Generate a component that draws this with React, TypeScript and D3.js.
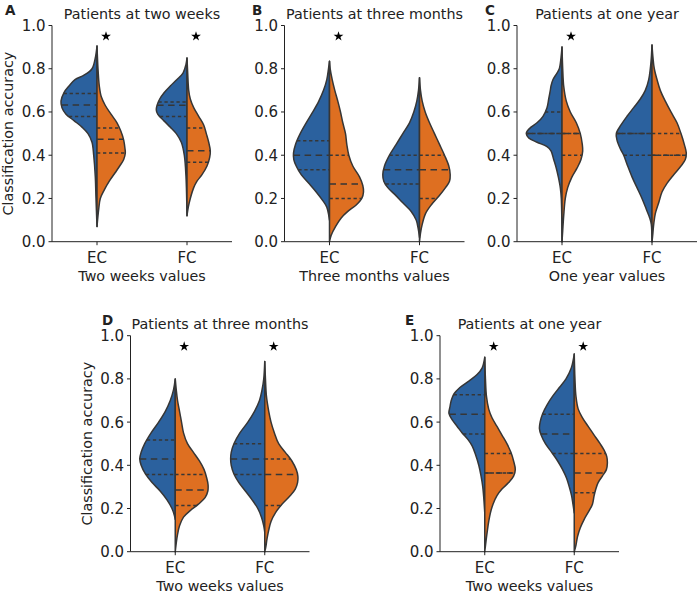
import React from "react";
import * as d3 from "d3";

// ---------- DATA ----------
const categories = ["EC", "FC"];
const yTicks = [0, 0.2, 0.4, 0.6, 0.8, 1.0];

// Density profiles: [classification accuracy, density]
const A_EC_left = [[0.905,0],[0.85,1.7],[0.80,5],[0.77,13],[0.75,22],[0.72,28],[0.69,33],[0.65,36],[0.62,35],[0.59,31],[0.56,23],[0.53,15],[0.50,9],[0.46,5],[0.40,3.3],[0.30,1.7],[0.20,1],[0.07,0]];
const A_EC_right = [[0.905,0],[0.80,1],[0.72,2.3],[0.67,4.3],[0.63,8.3],[0.59,14],[0.55,20],[0.51,24],[0.47,26.7],[0.43,28],[0.41,28.3],[0.38,26.7],[0.35,22.7],[0.32,18.3],[0.28,12.3],[0.24,7.3],[0.20,3.3],[0.15,1.7],[0.07,0]];
const A_FC_left = [[0.85,0],[0.82,1],[0.78,4],[0.75,10],[0.72,16.7],[0.69,22.7],[0.66,27.3],[0.63,30],[0.61,30.7],[0.59,29.3],[0.56,23.3],[0.53,16.7],[0.50,10.7],[0.46,5.7],[0.40,2.7],[0.30,1],[0.12,0]];
const A_FC_right = [[0.85,0],[0.78,0.7],[0.70,1.7],[0.66,3.3],[0.62,6.7],[0.58,11.7],[0.54,16.7],[0.50,19.3],[0.46,21.7],[0.42,23.3],[0.39,22.7],[0.35,20],[0.31,15],[0.28,10],[0.25,6.7],[0.20,3.3],[0.16,1.3],[0.12,0]];

const B_EC_left = [[0.835,0],[0.80,1],[0.75,2.7],[0.70,6],[0.65,10.7],[0.60,16.7],[0.55,23.3],[0.50,29.3],[0.45,34],[0.41,36],[0.38,35.7],[0.35,33.3],[0.31,28.3],[0.27,20.7],[0.23,13.3],[0.19,6.7],[0.16,2.7],[0.12,0.7],[0.10,0]];
const B_EC_right = [[0.835,0],[0.80,0.7],[0.75,2.7],[0.70,5.3],[0.65,8.3],[0.60,11],[0.55,13.3],[0.50,16],[0.45,17.3],[0.40,19.3],[0.35,23.3],[0.30,30],[0.26,33.3],[0.23,34],[0.20,32.3],[0.17,26.7],[0.14,18.3],[0.11,11.7],[0.07,6],[0.03,1.7],[0,0]];
const B_FC_left = [[0.758,0],[0.70,1],[0.65,2.7],[0.60,5.7],[0.55,10],[0.50,16.7],[0.45,23.3],[0.40,30],[0.35,35],[0.31,36.7],[0.28,35.7],[0.25,31.7],[0.22,25],[0.18,16.7],[0.14,8.3],[0.10,3.3],[0.06,1.3],[0.02,0]];
const B_FC_right = [[0.758,0],[0.70,1],[0.65,2.7],[0.60,5.7],[0.55,10],[0.50,15],[0.45,20],[0.40,25],[0.35,29.3],[0.31,30.7],[0.28,30],[0.25,26],[0.21,19.3],[0.17,11.7],[0.13,6],[0.08,2.7],[0.04,1],[0,0]];

const C_EC_left = [[0.9,0],[0.85,1],[0.80,2.7],[0.78,5],[0.75,9],[0.72,11],[0.70,11.7],[0.66,13.3],[0.62,15],[0.58,19],[0.55,25],[0.53,31],[0.51,35],[0.50,35.7],[0.48,33.3],[0.46,25],[0.44,15],[0.42,11],[0.38,8.3],[0.34,5.7],[0.30,3.7],[0.25,1.7],[0.20,0.7],[0,0]];
const C_EC_right = [[0.9,0],[0.80,0.7],[0.72,1.7],[0.65,4.3],[0.60,8.3],[0.55,14.3],[0.50,18.3],[0.45,20.3],[0.42,20.7],[0.38,19],[0.34,15],[0.30,10],[0.25,5.7],[0.20,3.3],[0.12,1.7],[0.05,0.7],[0,0]];
const C_FC_left = [[0.91,0],[0.85,0.7],[0.80,1.7],[0.75,3.3],[0.70,6.7],[0.66,11.7],[0.62,18.3],[0.58,25],[0.54,31],[0.50,35.7],[0.47,35],[0.43,31.7],[0.40,28.3],[0.35,24.3],[0.30,20],[0.25,15],[0.20,10],[0.15,5.7],[0.11,2.3],[0.08,0.7],[0,0]];
const C_FC_right = [[0.91,0],[0.85,1],[0.80,2.3],[0.75,5],[0.70,8.3],[0.65,13.3],[0.60,19],[0.55,25],[0.50,29],[0.45,32.3],[0.41,34.3],[0.38,33.3],[0.35,29],[0.31,21.7],[0.27,15],[0.23,10],[0.18,6.7],[0.13,3.3],[0.08,1.7],[0.03,0.7],[0,0]];

const D_EC_left = [[0.80,0],[0.75,1.7],[0.70,5],[0.65,10],[0.60,16.7],[0.55,24.3],[0.50,30.7],[0.46,34.3],[0.43,35.7],[0.40,34.3],[0.36,30],[0.32,23.3],[0.28,15],[0.24,8.3],[0.20,3.3],[0.17,1],[0.15,0]];
const D_EC_right = [[0.80,0],[0.75,1],[0.70,2.3],[0.65,4.3],[0.60,6.3],[0.55,8.3],[0.50,12.3],[0.46,18.3],[0.42,24.3],[0.38,29],[0.34,31.7],[0.31,33],[0.28,32.7],[0.25,30],[0.22,23.3],[0.19,15],[0.16,8.3],[0.12,4.3],[0.08,2.3],[0.04,1],[0,0]];
const D_FC_left = [[0.88,0],[0.80,1],[0.75,2.7],[0.70,5.3],[0.65,10.3],[0.60,17],[0.55,25],[0.50,31],[0.46,33.7],[0.43,34.3],[0.40,33.7],[0.36,31],[0.32,26],[0.28,19.3],[0.24,12.7],[0.20,7],[0.16,3.3],[0.12,1],[0.09,0]];
const D_FC_right = [[0.88,0],[0.80,0.7],[0.72,1.7],[0.65,4],[0.60,6.3],[0.55,9.7],[0.50,14],[0.46,20.7],[0.42,27.3],[0.38,31.7],[0.35,33.3],[0.32,33],[0.29,30.7],[0.26,25.7],[0.22,17.3],[0.18,10.7],[0.14,6.3],[0.10,4],[0.06,2.3],[0.02,1],[0,0]];

const E_EC_left = [[0.90,0],[0.85,2.7],[0.82,7.7],[0.79,16],[0.76,25],[0.73,31],[0.70,33.7],[0.67,35],[0.64,36],[0.61,32.7],[0.58,27.7],[0.55,22.7],[0.52,17],[0.49,12.7],[0.45,9.3],[0.40,6],[0.35,3.7],[0.30,2],[0.25,1],[0.18,0]];
const E_EC_right = [[0.90,0],[0.80,0.7],[0.72,1.7],[0.66,4],[0.62,7.3],[0.58,12.3],[0.54,17.3],[0.50,22.3],[0.46,26.3],[0.42,29],[0.38,30.7],[0.35,29],[0.32,24],[0.29,17.3],[0.26,12.3],[0.22,8.3],[0.18,5.7],[0.14,4],[0.10,2.7],[0.05,1.3],[0,0]];
const E_FC_left = [[0.915,0],[0.85,3],[0.80,8.3],[0.76,15],[0.72,21.7],[0.68,27.3],[0.64,31.7],[0.60,34.3],[0.57,35],[0.54,33.3],[0.50,29],[0.46,22.7],[0.42,16.7],[0.38,11.7],[0.34,7.7],[0.30,5],[0.26,2.7],[0.22,1.3],[0.18,0]];
const E_FC_right = [[0.915,0],[0.80,0.7],[0.72,1.7],[0.66,4],[0.62,8.3],[0.58,14],[0.54,20],[0.50,26],[0.47,30],[0.44,32.7],[0.41,33.3],[0.38,32.3],[0.35,28.3],[0.32,24],[0.29,21.7],[0.26,20],[0.22,18.3],[0.19,15],[0.15,10],[0.11,6],[0.07,3.3],[0.03,1.7],[0,0]];

// Quartiles [q1, median, q3]
const A_EC_q = { left: [0.579, 0.632, 0.685], right: [0.41, 0.474, 0.526] };
const A_FC_q = { left: [0.579, 0.631, 0.646], right: [0.368, 0.421, 0.526] };
const B_EC_q = { left: [0.333, 0.4, 0.467], right: [0.2, 0.267, 0.4] };
const B_FC_q = { left: [0.267, 0.333, 0.4], right: [0.2, 0.333, 0.4] };
const C_EC_q = { left: [0.5, 0.5, 0.6], right: [0.4, 0.5, 0.5] };
const C_FC_q = { left: [0.4, 0.5, 0.5], right: [0.4, 0.4, 0.5] };
const D_EC_q = { left: [0.357, 0.429, 0.517], right: [0.214, 0.286, 0.357] };
const D_FC_q = { left: [0.357, 0.429, 0.5], right: [0.214, 0.357, 0.429] };
const E_EC_q = { left: [0.545, 0.636, 0.727], right: [0.364, 0.364, 0.455] };
const E_FC_q = { left: [0.455, 0.545, 0.636], right: [0.273, 0.364, 0.455] };

// Significance stars (category names), drawn at accuracy 0.95
const A_stars = ["EC", "FC"];
const B_stars = ["EC"];
const C_stars = ["EC"];
const D_stars = ["EC", "FC"];
const E_stars = ["EC", "FC"];

const titles = ["Patients at two weeks", "Patients at three months", "Patients at one year", "Patients at three months", "Patients at one year"];
const xLabels = ["Two weeks values", "Three months values", "One year values", "Two weeks values", "Two weeks values"];
const letters = ["A", "B", "C", "D", "E"];

const panelsData = [
  { violins: { EC: { left: A_EC_left, right: A_EC_right, q: A_EC_q }, FC: { left: A_FC_left, right: A_FC_right, q: A_FC_q } }, stars: A_stars },
  { violins: { EC: { left: B_EC_left, right: B_EC_right, q: B_EC_q }, FC: { left: B_FC_left, right: B_FC_right, q: B_FC_q } }, stars: B_stars },
  { violins: { EC: { left: C_EC_left, right: C_EC_right, q: C_EC_q }, FC: { left: C_FC_left, right: C_FC_right, q: C_FC_q } }, stars: C_stars },
  { violins: { EC: { left: D_EC_left, right: D_EC_right, q: D_EC_q }, FC: { left: D_FC_left, right: D_FC_right, q: D_FC_q } }, stars: D_stars },
  { violins: { EC: { left: E_EC_left, right: E_EC_right, q: E_EC_q }, FC: { left: E_FC_left, right: E_FC_right, q: E_FC_q } }, stars: E_stars },
];

// ---------- LAYOUT / STYLE ----------
const layouts = [
  { left: 52, top: 25.5, width: 180, height: 216.2, letterX: 5, ylabel: true },
  { left: 284.5, top: 25.5, width: 180, height: 216.2, letterX: 252, ylabel: false },
  { left: 517, top: 25.5, width: 180, height: 216.2, letterX: 485, ylabel: false },
  { left: 130.5, top: 335.7, width: 179, height: 216, letterX: 102, ylabel: true },
  { left: 440, top: 335.7, width: 179, height: 216, letterX: 405, ylabel: false },
];

const BLUE = "#2b619e";
const ORANGE = "#de6f21";
const EDGE = "#363636";
const FONT = "DejaVu Sans";
const TICK_FS = 15;
const LABEL_FS = 14.3;

function densityAt(profile: number[][], v: number) {
  for (let i = 0; i < profile.length - 1; i++) {
    const [v0, d0] = profile[i];
    const [v1, d1] = profile[i + 1];
    if ((v <= v0 && v >= v1) || (v >= v0 && v <= v1)) {
      if (v0 === v1) return Math.max(d0, d1);
      return d0 + ((v - v0) / (v1 - v0)) * (d1 - d0);
    }
  }
  return 0;
}

function Panel({ idx }: { idx: number }) {
  const L = layouts[idx];
  const data = panelsData[idx];
  const x = d3.scalePoint<string>().domain(categories).range([L.left, L.left + L.width]).padding(0.5);
  const y = d3.scaleLinear().domain([0, 1]).range([L.top + L.height, L.top]);
  const step = x.step();
  const w = d3.scaleLinear().domain([0, 45]).range([0, step / 2]);
  const bottom = L.top + L.height;
  const starSym = d3.symbol().type(d3.symbolStar).size(30)();

  const halves: any[] = [];
  categories.forEach((cat) => {
    const vio = (data.violins as any)[cat];
    const cx = x(cat) as number;
    (["left", "right"] as const).forEach((side) => {
      const sign = side === "left" ? -1 : 1;
      const prof = vio[side] as number[][];
      const area = d3
        .area<number[]>()
        .y((d) => y(d[0]))
        .x0(() => cx)
        .x1((d) => cx + sign * w(Math.max(0, d[1])))
        .curve(d3.curveCatmullRom.alpha(0.5));
      const qs = vio.q[side] as number[];
      halves.push({ key: cat + side, path: area(prof), fill: side === "left" ? BLUE : ORANGE, cx, sign, prof, qs });
    });
  });

  return (
    <g>
      {halves.map((h) => (
        <path key={h.key} d={h.path} fill={h.fill} stroke={EDGE} strokeWidth={1.5} strokeLinejoin="round" />
      ))}
      {halves.map((h) =>
        h.qs.map((qv: number, i: number) => {
          const dw = w(densityAt(h.prof, qv));
          const x1 = h.sign < 0 ? h.cx - dw : h.cx;
          const x2 = h.sign < 0 ? h.cx : h.cx + dw;
          return (
            <line
              key={h.key + i}
              x1={x1}
              x2={x2}
              y1={y(qv)}
              y2={y(qv)}
              stroke={EDGE}
              strokeWidth={1.5}
              strokeDasharray={i === 1 ? "6.5,4.5" : "3.3,2.7"}
            />
          );
        })
      )}
      {data.stars.map((cat) => (
        <path key={"s" + cat} d={starSym as string} transform={`translate(${(x(cat) as number) + step * 0.1},${y(0.95)})`} fill="#000" />
      ))}
      {/* spines */}
      <line x1={L.left} x2={L.left} y1={L.top} y2={bottom} stroke="#222" strokeWidth={1} />
      <line x1={L.left} x2={L.left + L.width} y1={bottom} y2={bottom} stroke="#222" strokeWidth={1} />
      {yTicks.map((t) => (
        <g key={"yt" + t}>
          <line x1={L.left - 3.5} x2={L.left} y1={y(t)} y2={y(t)} stroke="#222" strokeWidth={1} />
          <text x={L.left - 6.5} y={y(t) + TICK_FS * 0.36} textAnchor="end" fontSize={TICK_FS} fontFamily={FONT} fill="#222">
            {d3.format(".1f")(t)}
          </text>
        </g>
      ))}
      {categories.map((c) => (
        <g key={"xt" + c}>
          <line x1={x(c)} x2={x(c)} y1={bottom} y2={bottom + 3.5} stroke="#222" strokeWidth={1} />
          <text x={x(c)} y={bottom + 21} textAnchor="middle" fontSize={TICK_FS} fontFamily={FONT} fill="#222">
            {c}
          </text>
        </g>
      ))}
      <text x={L.left + L.width / 2} y={bottom + 39.5} textAnchor="middle" fontSize={LABEL_FS} fontFamily={FONT} fill="#222">
        {xLabels[idx]}
      </text>
      <text x={L.left + L.width / 2} y={L.top - 7} textAnchor="middle" fontSize={LABEL_FS} fontFamily={FONT} fill="#222">
        {titles[idx]}
      </text>
      <text x={L.letterX} y={L.top - 10.5} fontSize={13.5} fontWeight="bold" fontFamily={FONT} fill="#222">
        {letters[idx]}
      </text>
      {L.ylabel && (
        <text
          transform={`translate(${L.left - 39},${L.top + L.height / 2}) rotate(-90)`}
          textAnchor="middle"
          fontSize={LABEL_FS}
          fontFamily={FONT}
          fill="#222"
        >
          Classification accuracy
        </text>
      )}
    </g>
  );
}

export default function App() {
  return (
    <svg width={700} height={594} style={{ position: "absolute", left: 0, top: 0, background: "#fff" }}>
      <rect width={700} height={594} fill="#fff" />
      {layouts.map((_, i) => (
        <Panel key={i} idx={i} />
      ))}
    </svg>
  );
}
